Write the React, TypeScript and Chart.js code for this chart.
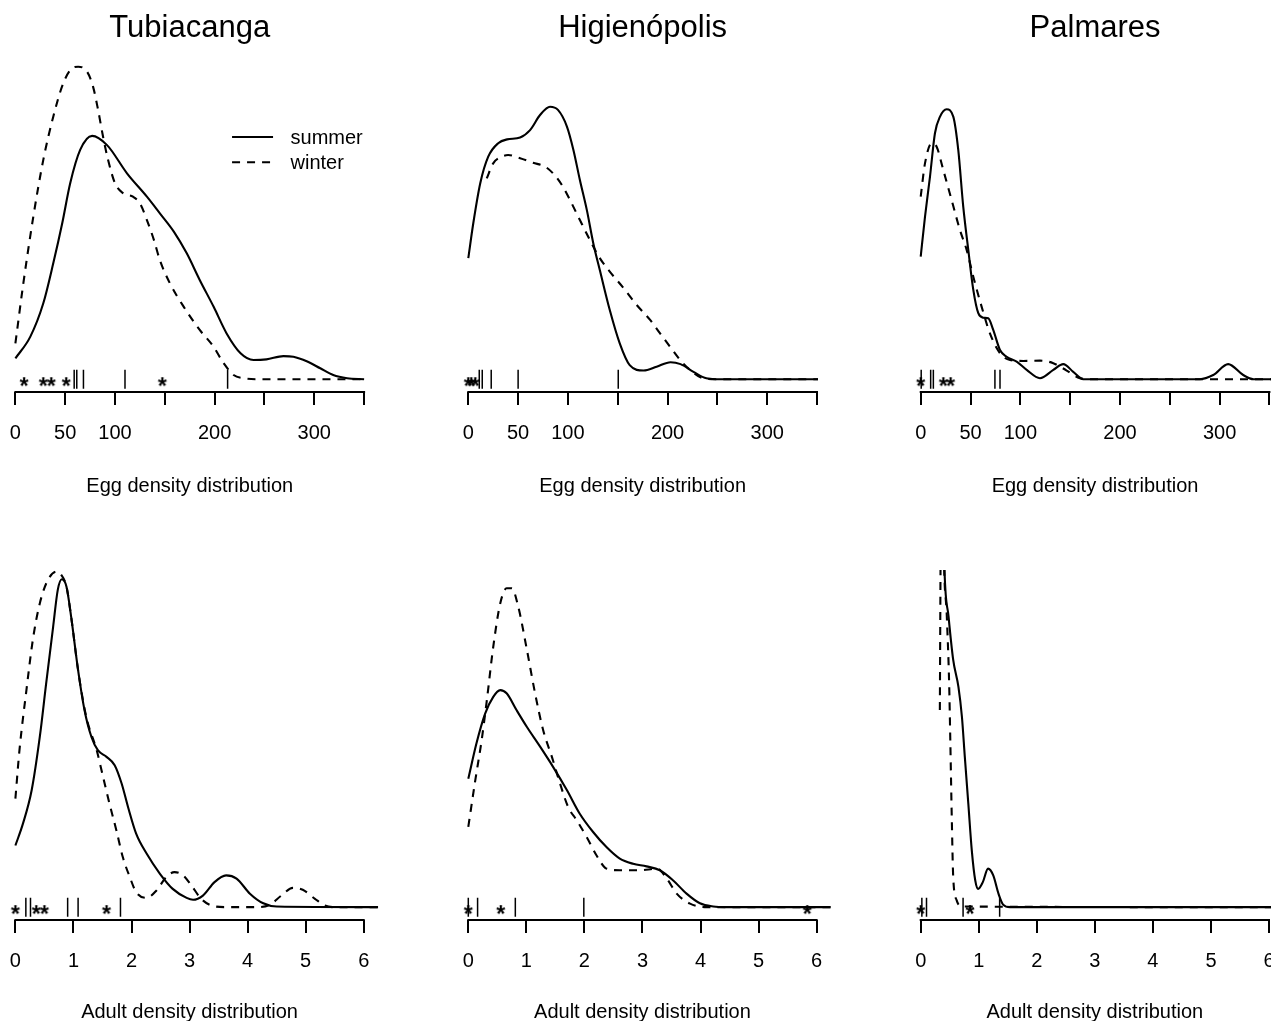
import React, { useEffect, useRef } from "react";
import { Chart, registerables } from "chart.js";

Chart.register(...registerables);

const FONT = '"Liberation Sans", Arial, Helvetica, sans-serif';

// ---------------- text ----------------
const siteNames = ["Tubiacanga", "Higienópolis", "Palmares"];
const eggAxisTitle = "Egg density distribution";
const adultAxisTitle = "Adult density distribution";
const seasonNames = ["summer", "winter"];

// ---------------- tick values / labels ----------------
const eggTickValues = [0, 50, 100, 150, 200, 250, 300, 350];
const eggTickLabels = ["0", "50", "100", "", "200", "", "300", ""];
const adultTickValues = [0, 1, 2, 3, 4, 5, 6];
const adultTickLabels = ["0", "1", "2", "3", "4", "5", "6"];

// ---------------- Tubiacanga, eggs ----------------
const tubEggSummerX = [0, 15, 28, 38, 47, 55, 65, 77, 92, 112, 132, 145, 159, 172, 185, 199, 212, 226, 239, 252, 269, 279, 293, 306, 319, 333, 350];
const tubEggSummerY = [6.5, 13.3, 23.7, 36.2, 48.7, 61.2, 71.6, 76.0, 73.1, 64.3, 57.0, 51.8, 46.1, 39.3, 31.0, 22.6, 14.3, 8.1, 6.0, 6.2, 7.2, 7.0, 5.5, 3.4, 1.3, 0.3, 0];
const tubEggWinterX = [0, 8, 18, 28, 38, 48, 57, 63, 72, 78, 83, 88, 93, 100, 108, 118, 125, 132, 139, 145, 155, 169, 185, 199, 209, 219, 229, 245, 350];
const tubEggWinterY = [11.2, 30.0, 50.8, 68.5, 82.0, 92.4, 97.1, 97.6, 96.0, 91.3, 84.1, 75.7, 68.5, 61.2, 58.1, 57.0, 54.9, 49.7, 43.5, 37.2, 30.0, 22.6, 15.4, 10.1, 5.0, 1.3, 0.3, 0, 0];
const tubEggBars = [59, 61.6, 68.3, 110, 213];
const tubEggStars = [8.7, 28, 36, 51, 147.5];

// ---------------- Higienópolis, eggs ----------------
const higEggSummerX = [0, 5, 12, 20, 30, 39, 52, 62, 72, 82, 90, 99, 105.5, 112, 119, 125.5, 132, 142, 152, 162, 176, 189, 203, 213, 226, 239, 253, 351];
const higEggSummerY = [37.8, 48.7, 61.2, 69.5, 73.7, 74.9, 75.5, 77.8, 82.5, 85.1, 84.1, 78.9, 71.6, 62.2, 52.8, 42.4, 34.1, 21.6, 11.2, 4.4, 2.7, 3.9, 5.3, 4.7, 2.3, 0.3, 0, 0];
const higEggWinterX = [18.5, 25, 33.5, 40, 52, 65, 77, 85, 94, 102, 112, 122, 132, 142, 156, 169, 182.5, 192.5, 202.6, 212.6, 222.6, 236, 253, 351];
const higEggWinterY = [62.7, 67.4, 69.5, 70.0, 69.0, 67.6, 66.4, 64.3, 60.6, 56.0, 49.7, 43.5, 37.8, 33.6, 28.4, 23.2, 18.5, 14.3, 10.1, 6.0, 2.9, 0.3, 0, 0];
const higEggBars = [11, 14, 23, 50, 150.5];
const higEggStars = [0, 3, 7];

// ---------------- Palmares, eggs ----------------
const palEggSummerX = [0, 4.3, 9.3, 14.3, 19.4, 26, 32.7, 37.7, 42.7, 47.8, 52.8, 57.8, 62.8, 67.8, 72.8, 79.6, 86.3, 96.3, 106.4, 119.7, 133.1, 143.1, 153.1, 163.2, 280, 293.6, 308.6, 323.7, 334, 352];
const palEggSummerY = [38.3, 50.7, 63.2, 76.8, 82.0, 84.3, 82.0, 71.6, 53.9, 40.3, 27.9, 20.6, 19.2, 19.0, 15.4, 9.1, 7.0, 5.5, 2.9, 0.3, 2.9, 4.7, 2.3, 0, 0, 1.3, 4.7, 1.3, 0, 0];
const palEggWinterX = [0, 4.3, 11, 16, 22.7, 31, 39.4, 46.2, 52.8, 61.2, 69.5, 79.6, 89.6, 103, 119.7, 133.1, 146.5, 159.8, 170, 352];
const palEggWinterY = [57.0, 67.4, 73.7, 72.6, 65.3, 56.0, 46.6, 40.3, 32.0, 22.6, 14.3, 8.1, 6.0, 5.7, 5.8, 5.0, 2.7, 0.3, 0, 0];
const palEggBars = [0.5, 10, 12.7, 74.5, 79.6];
const palEggStars = [0, 22.7, 30];

// ---------------- Tubiacanga, adults ----------------
const tubAdultSummerX = [0, 0.13, 0.28, 0.42, 0.53, 0.65, 0.73, 0.8, 0.88, 0.96, 1.08, 1.19, 1.31, 1.42, 1.57, 1.71, 1.83, 1.94, 2.08, 2.26, 2.49, 2.71, 2.95, 3.06, 3.23, 3.43, 3.63, 3.81, 4.04, 4.27, 4.5, 6.25];
const tubAdultSummerY = [19.2, 26.0, 36.4, 53.0, 69.7, 87.3, 98.8, 102.1, 99.8, 90.5, 73.8, 61.4, 53.0, 48.9, 46.8, 44.2, 38.5, 31.2, 22.9, 16.7, 10.4, 5.7, 2.9, 2.3, 3.6, 7.8, 9.9, 8.9, 4.2, 1.2, 0.2, 0];
const tubAdultWinterX = [0, 0.07, 0.19, 0.3, 0.42, 0.56, 0.71, 0.79, 0.88, 0.96, 1.08, 1.22, 1.4, 1.51, 1.62, 1.74, 1.85, 1.97, 2.08, 2.26, 2.43, 2.6, 2.74, 2.89, 3.03, 3.2, 3.38, 3.63, 4.15, 4.38, 4.58, 4.78, 4.95, 5.16, 5.33, 5.47, 6.25];
const tubAdultWinterY = [33.8, 48.9, 67.6, 83.2, 94.6, 101.9, 104.5, 103.5, 99.8, 90.5, 73.8, 59.3, 48.9, 40.6, 32.3, 23.9, 15.6, 9.4, 4.7, 2.9, 5.2, 9.4, 10.9, 9.9, 6.8, 2.6, 0.5, 0, 0, 0.7, 3.6, 6.0, 5.4, 2.6, 0.5, 0, 0];
const tubAdultBars = [0.18, 0.26, 0.9, 1.08, 1.81];
const tubAdultStars = [0, 0.36, 0.5, 1.57];

// ---------------- Higienópolis, adults ----------------
const higAdultSummerX = [0, 0.14, 0.29, 0.43, 0.55, 0.66, 0.83, 1.01, 1.24, 1.46, 1.7, 1.92, 2.15, 2.38, 2.61, 2.84, 3.07, 3.3, 3.53, 3.76, 3.99, 4.22, 4.45, 6.24];
const higAdultSummerY = [40.0, 51.0, 60.3, 65.5, 67.6, 66.6, 61.4, 56.1, 49.9, 43.7, 36.4, 29.1, 23.4, 18.7, 15.1, 13.5, 12.7, 11.5, 8.3, 4.2, 1.2, 0.2, 0, 0];
const higAdultWinterX = [0, 0.12, 0.23, 0.32, 0.43, 0.55, 0.66, 0.75, 0.86, 1.01, 1.15, 1.29, 1.44, 1.58, 1.72, 1.87, 2.04, 2.21, 2.38, 2.61, 2.96, 3.25, 3.42, 3.59, 3.82, 4.11, 6.24];
const higAdultWinterY = [25.0, 39.5, 52.0, 64.5, 81.1, 94.6, 99.3, 99.3, 93.6, 80.1, 66.6, 55.1, 46.8, 38.5, 31.2, 27.0, 21.8, 16.1, 12.0, 11.5, 11.5, 12.0, 8.9, 4.2, 1.1, 0, 0];
const higAdultBars = [0, 0.16, 0.81, 1.99];
const higAdultStars = [0, 0.56, 5.84];

// ---------------- Palmares, adults ----------------
const palAdultSummerX = [0, 0.2, 0.36, 0.41, 0.48, 0.56, 0.65, 0.71, 0.76, 0.82, 0.88, 0.94, 0.99, 1.07, 1.16, 1.25, 1.34, 1.42, 1.54, 6.25];
const palAdultSummerY = [150, 170, 150, 105, 90.5, 77.0, 68.6, 59.3, 46.8, 32.3, 17.7, 8.3, 5.7, 7.8, 12.0, 9.9, 4.2, 0.8, 0, 0];
const palAdultWinterX = [0.33, 0.34, 0.355, 0.37, 0.39, 0.45, 0.49, 0.51, 0.535, 0.56, 0.62, 0.71, 6.25];
const palAdultWinterY = [61.4, 100, 150, 170, 120, 90.5, 69.7, 52, 28.1, 9.4, 2.1, 0.2, 0];
const palAdultBars = [0.02, 0.1, 0.73, 1.36];
const palAdultStars = [0, 0.85];

// ---------------- layout (positions only) ----------------
const COL_ZERO_PX = [15.4, 468.3, 920.7];
const EGG_PX_PER_UNIT = 0.9963;
const ADULT_PX_PER_UNIT = 58.05;
const EGG_X_RANGE = [-14, 364];
const ADULT_X_RANGE = [-0.25, 6.25];
const Y_RANGE = [-4, 105];

type PanelDef = {
  row: number;
  col: number;
  title?: string;
  axisTitle: string;
  tickValues: number[];
  tickLabels: string[];
  summerX: number[];
  summerY: number[];
  winterX: number[];
  winterY: number[];
  bars: number[];
  stars: number[];
  legend: boolean;
};

const panels: PanelDef[] = [
  { row: 0, col: 0, title: siteNames[0], axisTitle: eggAxisTitle, tickValues: eggTickValues, tickLabels: eggTickLabels, summerX: tubEggSummerX, summerY: tubEggSummerY, winterX: tubEggWinterX, winterY: tubEggWinterY, bars: tubEggBars, stars: tubEggStars, legend: true },
  { row: 0, col: 1, title: siteNames[1], axisTitle: eggAxisTitle, tickValues: eggTickValues, tickLabels: eggTickLabels, summerX: higEggSummerX, summerY: higEggSummerY, winterX: higEggWinterX, winterY: higEggWinterY, bars: higEggBars, stars: higEggStars, legend: false },
  { row: 0, col: 2, title: siteNames[2], axisTitle: eggAxisTitle, tickValues: eggTickValues, tickLabels: eggTickLabels, summerX: palEggSummerX, summerY: palEggSummerY, winterX: palEggWinterX, winterY: palEggWinterY, bars: palEggBars, stars: palEggStars, legend: false },
  { row: 1, col: 0, axisTitle: adultAxisTitle, tickValues: adultTickValues, tickLabels: adultTickLabels, summerX: tubAdultSummerX, summerY: tubAdultSummerY, winterX: tubAdultWinterX, winterY: tubAdultWinterY, bars: tubAdultBars, stars: tubAdultStars, legend: false },
  { row: 1, col: 1, axisTitle: adultAxisTitle, tickValues: adultTickValues, tickLabels: adultTickLabels, summerX: higAdultSummerX, summerY: higAdultSummerY, winterX: higAdultWinterX, winterY: higAdultWinterY, bars: higAdultBars, stars: higAdultStars, legend: false },
  { row: 1, col: 2, axisTitle: adultAxisTitle, tickValues: adultTickValues, tickLabels: adultTickLabels, summerX: palAdultSummerX, summerY: palAdultSummerY, winterX: palAdultWinterX, winterY: palAdultWinterY, bars: palAdultBars, stars: palAdultStars, legend: false },
];

function geometry(p: PanelDef) {
  const k = p.row === 0 ? EGG_PX_PER_UNIT : ADULT_PX_PER_UNIT;
  const range = p.row === 0 ? EGG_X_RANGE : ADULT_X_RANGE;
  const chartLeft = COL_ZERO_PX[p.col] + range[0] * k;
  const chartWidth = (range[1] - range[0]) * k;
  const left = Math.floor(chartLeft) - 24;
  const padL = chartLeft - left;
  const width = Math.ceil(padL + chartWidth + 24);
  const padR = width - padL - chartWidth;
  const top = p.row === 0 ? 0 : 570;
  const height = p.row === 0 ? 502 : 460;
  return { left, top, width, height, padL, padR, range };
}

function makeStarGlyph(): HTMLCanvasElement {
  const c = document.createElement("canvas");
  c.width = 20;
  c.height = 20;
  const g = c.getContext("2d")!;
  g.fillStyle = "#000";
  g.font = `bold 23px ${FONT}`;
  g.textBaseline = "alphabetic";
  const m = g.measureText("*");
  const gw = m.actualBoundingBoxLeft + m.actualBoundingBoxRight;
  const gh = m.actualBoundingBoxAscent + m.actualBoundingBoxDescent;
  const cx = 10;
  const cy = 12.5;
  g.fillText("*", cx - gw / 2 + m.actualBoundingBoxLeft, cy - gh / 2 + m.actualBoundingBoxAscent);
  return c;
}

const toPoints = (xs: number[], ys: number[]) => xs.map((x, i) => ({ x, y: ys[i] }));

function DensityPanel({ p }: { p: PanelDef }) {
  const ref = useRef<HTMLCanvasElement | null>(null);
  const geo = geometry(p);

  useEffect(() => {
    const canvas = ref.current;
    if (!canvas) return;
    const starGlyph = makeStarGlyph();

    const axisLinePlugin = {
      id: "axisLine",
      afterDraw(chart: any) {
        const xs = chart.scales.x;
        const ctx = chart.ctx;
        const y = chart.chartArea.bottom;
        ctx.save();
        ctx.strokeStyle = "#000";
        ctx.lineWidth = 2;
        ctx.beginPath();
        ctx.moveTo(xs.getPixelForValue(p.tickValues[0]) - 1, y);
        ctx.lineTo(xs.getPixelForValue(p.tickValues[p.tickValues.length - 1]) + 1, y);
        ctx.stroke();
        ctx.restore();
      },
    };

    const legendPlugin = {
      id: "seasonLegend",
      afterDraw(chart: any) {
        if (!p.legend) return;
        const { right, top } = chart.chartArea;
        const ctx = chart.ctx;
        const rows = [top + 94, top + 119.3];
        ctx.save();
        ctx.strokeStyle = "#000";
        ctx.fillStyle = "#000";
        ctx.lineWidth = 2;
        ctx.font = `20px ${FONT}`;
        ctx.textBaseline = "middle";
        ctx.textAlign = "left";
        seasonNames.forEach((name, i) => {
          ctx.setLineDash(i === 0 ? [] : [8, 7]);
          ctx.beginPath();
          ctx.moveTo(right - 146, rows[i]);
          ctx.lineTo(right - 105, rows[i]);
          ctx.stroke();
          ctx.setLineDash([]);
          ctx.fillText(name, right - 87.5, rows[i] + 1);
        });
        ctx.restore();
      },
    };

    const chart = new Chart(canvas, {
      type: "line",
      data: {
        datasets: [
          {
            label: seasonNames[0],
            data: toPoints(p.summerX, p.summerY),
            borderColor: "#000",
            borderWidth: 2.1,
            pointRadius: 0,
            fill: false,
            cubicInterpolationMode: "monotone",
            borderJoinStyle: "round",
          },
          {
            label: seasonNames[1],
            data: toPoints(p.winterX, p.winterY),
            borderColor: "#000",
            borderWidth: 2.1,
            borderDash: [8, 7],
            pointRadius: 0,
            fill: false,
            cubicInterpolationMode: "monotone",
            borderJoinStyle: "round",
          },
          {
            label: "rug",
            data: p.bars.map((x) => ({ x, y: 0 })),
            showLine: false,
            pointStyle: "line",
            rotation: 90,
            pointRadius: 9.5,
            pointBorderWidth: 1.5,
            borderColor: "#000",
            backgroundColor: "#000",
          },
          {
            label: "stars",
            data: p.stars.map((x) => ({ x, y: 0 })),
            showLine: false,
            pointStyle: starGlyph as any,
            pointRadius: 3,
            borderColor: "#000",
            backgroundColor: "#000",
          },
        ],
      },
      options: {
        animation: false,
        responsive: false,
        maintainAspectRatio: false,
        events: [],
        layout: { autoPadding: false, padding: { left: geo.padL, right: geo.padR, top: 0, bottom: 0 } },
        plugins: {
          legend: { display: false },
          tooltip: { enabled: false },
          title: {
            display: !!p.title,
            text: p.title || "",
            color: "#000",
            font: { family: FONT, size: 31, weight: "normal", lineHeight: 0.85 },
            padding: { top: 15, bottom: 1.65 },
          },
        },
        scales: {
          x: {
            type: "linear",
            min: geo.range[0],
            max: geo.range[1],
            offset: false,
            border: { display: false },
            grid: {
              display: true,
              drawOnChartArea: false,
              drawTicks: true,
              tickLength: 13,
              tickWidth: 2,
              tickColor: "#000",
              color: "#000",
              lineWidth: 2,
            },
            ticks: {
              autoSkip: false,
              maxRotation: 0,
              minRotation: 0,
              padding: 16.5,
              color: "#000",
              font: { family: FONT, size: 20 },
              callback: (_v: any, i: number) => p.tickLabels[i],
            },
            afterBuildTicks: (scale: any) => {
              scale.ticks = p.tickValues.map((v) => ({ value: v }));
            },
            afterFit: (scale: any) => {
              scale.height = 110;
            },
            title: {
              display: true,
              text: p.axisTitle,
              color: "#000",
              font: { family: FONT, size: 20, lineHeight: 1.2 },
              padding: { top: 0, bottom: p.row === 0 ? 4 : 6 },
            },
          },
          y: {
            type: "linear",
            display: false,
            min: Y_RANGE[0],
            max: Y_RANGE[1],
          },
        },
      } as any,
      plugins: [axisLinePlugin, legendPlugin],
    });
    return () => chart.destroy();
  }, []);

  return (
    <canvas
      ref={ref}
      width={geo.width}
      height={geo.height}
      style={{ position: "absolute", left: geo.left, top: geo.top, width: geo.width, height: geo.height }}
    />
  );
}

export default function App() {
  return (
    <div
      style={{
        position: "absolute",
        left: 0,
        top: 0,
        width: 1271,
        height: 1021,
        overflow: "hidden",
        background: "#fff",
      }}
    >
      {panels.map((p, i) => (
        <DensityPanel key={i} p={p} />
      ))}
    </div>
  );
}
